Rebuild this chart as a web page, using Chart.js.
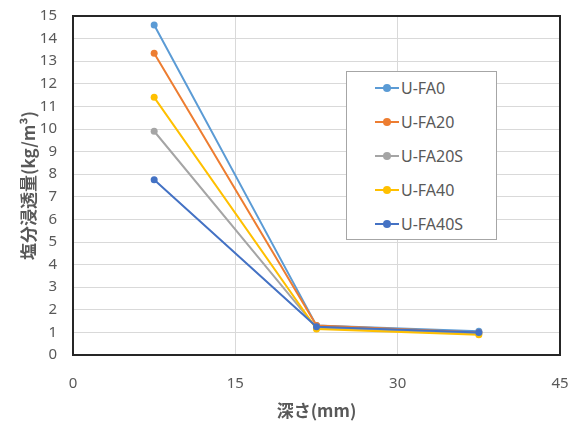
<!DOCTYPE html>
<html><head><meta charset="utf-8">
<script src="https://cdn.jsdelivr.net/npm/chart.js@4/dist/chart.umd.min.js"></script>
<style>
html,body{margin:0;padding:0;background:#fff;}
#wrap{position:relative;width:572px;height:421px;}
#legend{position:absolute;left:346px;top:71px;width:151px;height:169px;border:1px solid #a6a6a6;background:#fff;box-sizing:border-box;font-family:"Noto Sans","Liberation Sans",sans-serif;font-size:16px;color:#595959;}
.item{position:absolute;left:28px;height:20px;display:flex;align-items:center;}
.mk{position:relative;width:24px;height:20px;margin-right:2px;}
.mk .ln{position:absolute;left:0;right:0;top:9px;height:2px;}
.mk .dt{position:absolute;left:8px;top:6px;width:8px;height:8px;border-radius:50%;}
</style></head>
<body><div id="wrap"><canvas id="c" width="572" height="421"></canvas><div id="legend"></div></div>
<script>
const depths = [7.5, 22.5, 37.5];
const seriesNames = ["U-FA0", "U-FA20", "U-FA20S", "U-FA40", "U-FA40S"];
const uFA0   = [14.6, 1.30, 1.05];
const uFA20  = [13.35, 1.30, 1.00];
const uFA20S = [9.9, 1.20, 0.95];
const uFA40  = [11.4, 1.15, 0.90];
const uFA40S = [7.75, 1.25, 1.00];
const xTicks = [0, 15, 30, 45];
const colors = ["#5B9BD5", "#ED7D31", "#A5A5A5", "#FFC000", "#4472C4"];
const allSeries = [uFA0, uFA20, uFA20S, uFA40, uFA40S];

const datasets = allSeries.map((vals, i) => ({
  label: seriesNames[i],
  data: vals.map((v, j) => ({x: depths[j], y: v})),
  borderColor: colors[i],
  backgroundColor: colors[i],
  borderWidth: 2,
  pointRadius: 3.5,
  pointHoverRadius: 3.5,
  pointBorderWidth: 0,
  tension: 0,
  order: allSeries.length - i
}));

const frame = {
  id: 'frame',
  afterDraw(chart) {
    const a = chart.chartArea, ctx = chart.ctx;
    ctx.save();
    ctx.strokeStyle = '#262626';
    ctx.lineWidth = 2;
    ctx.strokeRect(a.left, a.top, a.right - a.left, a.bottom - a.top);
    ctx.restore();
  }
};

new Chart(document.getElementById('c'), {
  type: 'line',
  data: { datasets },
  plugins: [frame],
  options: {
    responsive: false,
    animation: false,
    events: [],
    layout: { padding: { left: 0, right: 12, top: 16, bottom: 0 } },
    plugins: { legend: { display: false }, tooltip: { enabled: false } },
    scales: {
      x: {
        type: 'linear', min: 0, max: 45,
        afterBuildTicks: s => { s.ticks = xTicks.map(v => ({value: v})); },
        afterFit: s => { s.height = 66; },
        grid: { color: '#d9d9d9', lineWidth: 1, drawTicks: true, tickLength: 18, tickColor: 'rgba(0,0,0,0)' },
        border: { display: false },
        ticks: { padding: 2, color: '#595959', font: { family: '"Noto Sans", sans-serif', size: 15 }, maxRotation: 0 },
        title: { display: true, text: '深さ(mm)', color: '#595959', padding: { top: 2, bottom: 0 },
                 font: { family: '"Noto Sans CJK JP", sans-serif', size: 17, weight: 'bold' } }
      },
      y: {
        type: 'linear', min: 0, max: 15,
        ticks: { stepSize: 1, padding: 2, color: '#595959', font: { family: '"Noto Sans", sans-serif', size: 15 } },
        afterFit: s => { s.width = 73; },
        grid: { color: '#d9d9d9', lineWidth: 1, drawTicks: true, tickLength: 14, tickColor: 'rgba(0,0,0,0)' },
        border: { display: false },
        title: { display: true, text: '塩分浸透量(kg/m³)', color: '#595959', padding: { top: 18, bottom: 0 },
                 font: { family: '"Noto Sans CJK JP", sans-serif', size: 17, weight: 'bold' } }
      }
    }
  }
});

const lg = document.getElementById('legend');
seriesNames.forEach((n, i) => {
  const d = document.createElement('div');
  d.className = 'item';
  d.style.top = (6 + i * 34) + 'px';
  d.innerHTML = '<span class="mk"><span class="ln" style="background:' + colors[i] + '"></span><span class="dt" style="background:' + colors[i] + '"></span></span><span>' + n + '</span>';
  lg.appendChild(d);
});
</script></body></html>
